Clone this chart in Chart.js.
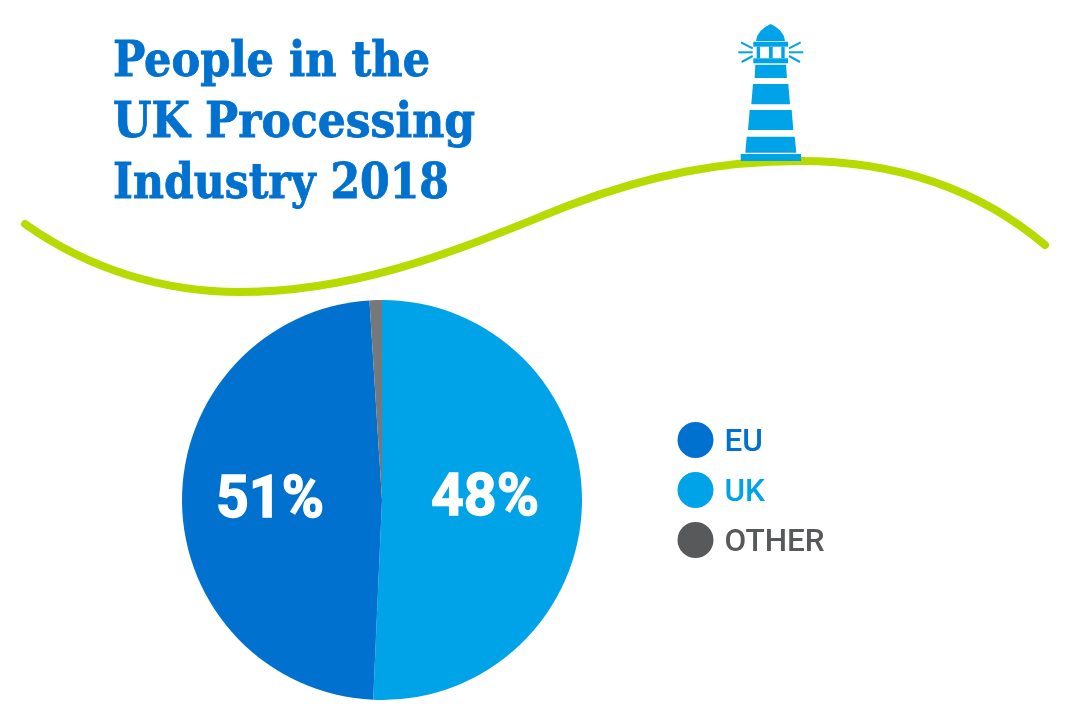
<!DOCTYPE html>
<html>
<head>
<meta charset="utf-8">
<title>People in the UK Processing Industry 2018</title>
<script src="https://cdn.jsdelivr.net/npm/chart.js@4"></script>
<style>
 html, body { margin: 0; padding: 0; background: #fff; overflow: hidden; }
 canvas { display: block; }
</style>
</head>
<body>
<canvas id="pie" width="1067" height="719"></canvas>
<script>
const titleLines = ["People in the", "UK Processing", "Industry 2018"]

// clockwise from 12 o'clock, slice sizes as drawn in the picture
const sliceNames = ["UK", "EU", "OTHER"]
const sliceValues = [50.7, 48.3, 1.0]
// printed labels differ slightly from the drawn sizes in the reference
const sliceTexts = ["48%", "51%", ""]
const sliceColors = ["#00a3e8", "#0071ce", "#77787b"]

const legendNames = ["EU", "UK", "OTHER"]
const legendColors = ["#0071ce", "#00a3e8", "#58595b"]

const wave = {
 id: "wave",
 beforeDraw(chart) {
  const c = chart.ctx
  c.save()
  c.strokeStyle = "#b7da00"
  c.lineWidth = 8
  c.lineCap = "round"
  c.beginPath()
  c.moveTo(25, 224)
  c.bezierCurveTo(90, 270, 165, 292, 240, 292)
  c.bezierCurveTo(370, 292, 480, 240, 570, 205)
  c.bezierCurveTo(650, 175, 720, 161, 800, 161)
  c.bezierCurveTo(900, 161, 980, 190, 1045, 245)
  c.stroke()
  c.restore()
 }
}

function quad(c, x1, x2, y1, x3, x4, y2) {
 c.beginPath()
 c.moveTo(x1, y1)
 c.lineTo(x2, y1)
 c.lineTo(x4, y2)
 c.lineTo(x3, y2)
 c.closePath()
 c.fill()
}

const lighthouse = {
 id: "lighthouse",
 beforeDraw(chart) {
  const c = chart.ctx
  c.save()
  c.fillStyle = "#00a3e8"
  c.strokeStyle = "#00a3e8"
  c.lineWidth = 2

  c.beginPath()
  c.moveTo(756, 41)
  c.quadraticCurveTo(757, 30, 770.7, 24)
  c.quadraticCurveTo(784, 30, 785, 41)
  c.closePath()
  c.fill()

  c.fillRect(753.3, 41.7, 34.7, 5)
  c.fillRect(756.7, 46.7, 3.3, 11.6)
  c.fillRect(769, 46.7, 3.7, 11.6)
  c.fillRect(781.3, 46.7, 3.4, 11.6)
  c.fillRect(753.3, 58.3, 34.7, 5)

  quad(c, 755.3, 786, 64.7, 754.7, 787, 78)
  quad(c, 753, 788.3, 84, 751.3, 790, 104.3)
  quad(c, 749.7, 791.7, 110, 748, 793.3, 130)
  quad(c, 746.7, 794.7, 136.7, 745.3, 796.3, 152.7)
  c.fillRect(740.7, 154, 60.3, 7)

  const rays = [
   [741, 42.3, 752.7, 48.3], [738.3, 52.3, 752.7, 52.3], [741.7, 62, 752.7, 56],
   [800.7, 42.3, 789, 48.3], [803.3, 52.3, 789, 52.3], [800, 62, 789, 56]
  ]
  rays.forEach(r => {
   c.beginPath()
   c.moveTo(r[0], r[1])
   c.lineTo(r[2], r[3])
   c.stroke()
  })
  c.restore()
 }
}

const texts = {
 id: "texts",
 afterDraw(chart) {
  const c = chart.ctx
  c.save()

  // title, each line squeezed to its width in the reference
  c.fillStyle = "#0071ce"
  c.strokeStyle = "#0071ce"
  c.lineWidth = 0.8
  c.textAlign = "left"
  c.textBaseline = "alphabetic"
  c.font = "bold 49px 'DejaVu Serif Condensed', 'DejaVu Serif'"
  const titleWidths = [317, 363, 336]
  titleLines.forEach((line, i) => {
   c.fillText(line, 113, 76 + i * 61, titleWidths[i])
   c.strokeText(line, 113, 76 + i * 61, titleWidths[i])
  })

  // labels inside the slices
  c.fillStyle = "#fff"
  c.strokeStyle = "#fff"
  c.lineWidth = 1.4
  c.textAlign = "center"
  c.textBaseline = "middle"
  c.font = "bold 60px Roboto"
  const arcs = chart.getDatasetMeta(0).data
  const nudges = [[3, -2], [-12, 1], [0, 0]]
  arcs.forEach((arc, i) => {
   if (!sliceTexts[i]) return
   const p = arc.getCenterPoint()
   c.fillText(sliceTexts[i], p.x + nudges[i][0], p.y + nudges[i][1], 108)
   c.strokeText(sliceTexts[i], p.x + nudges[i][0], p.y + nudges[i][1], 108)
  })

  // legend
  c.textAlign = "left"
  c.font = "500 31.5px Roboto"
  legendNames.forEach((name, i) => {
   const y = 440 + i * 50
   c.fillStyle = legendColors[i]
   c.beginPath()
   c.arc(695.5, y, 18, 0, Math.PI * 2)
   c.fill()
   c.fillText(name, 724.5, y + 3)
  })
  c.restore()
 }
}

new Chart(document.getElementById("pie"), {
 type: "pie",
 data: {
  labels: sliceNames,
  datasets: [{
   data: sliceValues,
   backgroundColor: sliceColors,
   borderWidth: 0
  }]
 },
 options: {
  responsive: false,
  animation: false,
  devicePixelRatio: 1,
  layout: { padding: { left: 182, top: 300, right: 485, bottom: 19 } },
  plugins: {
   legend: { display: false },
   tooltip: { enabled: false }
  }
 },
 plugins: [wave, lighthouse, texts]
})
</script>
</body>
</html>
